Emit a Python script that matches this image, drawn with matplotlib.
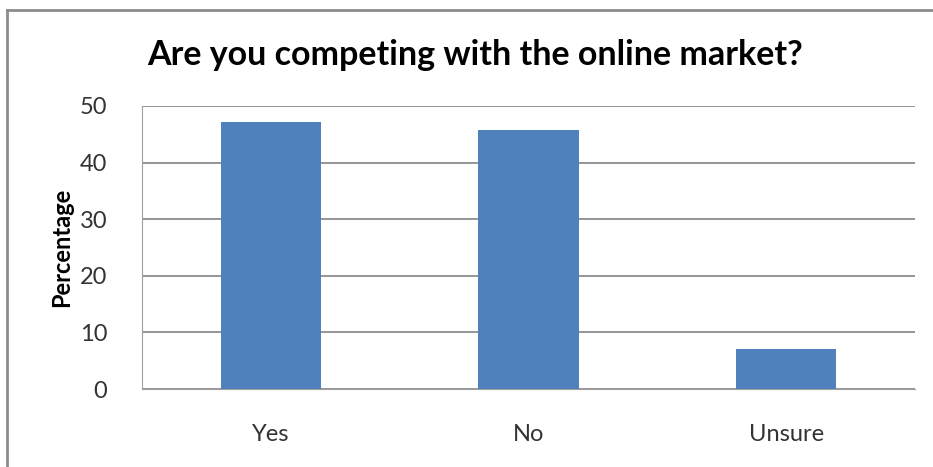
import matplotlib
matplotlib.use("Agg")
import matplotlib.pyplot as plt

categories = ["Yes", "No", "Unsure"]
percentages = [47.2, 45.8, 7.1]
yticks = [0, 10, 20, 30, 40, 50]

plt.rcParams['font.family'] = ['Lato', 'DejaVu Sans']

fig = plt.figure(figsize=(9.33, 4.67), dpi=100)
ax = fig.add_axes([142/933, 1 - 389/467, (915 - 142)/933, (389 - 106)/467])

ax.bar(range(len(categories)), percentages, width=0.39, color="#4f81bd", zorder=3)
ax.set_xlim(-0.5, len(categories) - 0.5)
ax.set_ylim(0, 50)
ax.set_yticks(yticks)
ax.set_xticks(range(len(categories)))
ax.set_xticklabels(categories)
ax.tick_params(axis='y', length=0, pad=25, labelsize=17, labelcolor="#333333")
ax.tick_params(axis='x', length=0, pad=25, labelsize=17, labelcolor="#333333")
ax.yaxis.grid(True, color="#8c8c8c", linewidth=1.3, zorder=0)
for s in ["top", "right"]:
    ax.spines[s].set_visible(False)
ax.spines["left"].set_color("#a0a0a0")
ax.spines["bottom"].set_color("#a0a0a0")

ax.set_ylabel("Percentage", fontsize=17, fontweight="bold", labelpad=5)
fig.text(475/933, 1 - 55/467, "Are you competing with the online market?",
         ha="center", va="center", fontsize=24.5, fontweight="bold")

# outer chart border (top and left only visible)
fig.add_artist(plt.Line2D([7/933, 7/933], [0, 1 - 10/467], transform=fig.transFigure,
                          color="#8c8c8c", linewidth=2))
fig.add_artist(plt.Line2D([7/933, 1], [1 - 10/467, 1 - 10/467], transform=fig.transFigure,
                          color="#8c8c8c", linewidth=2))

fig.savefig("out.png", dpi=100)
